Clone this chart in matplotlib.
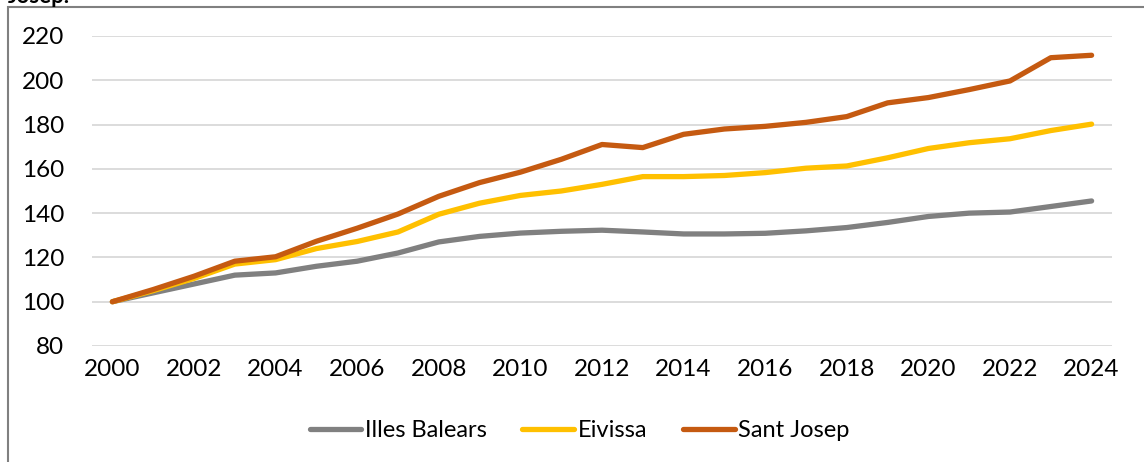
import matplotlib.pyplot as plt
from matplotlib.patches import Rectangle

# Datos (índice 2000 = 100)
years = list(range(2000, 2025))
illes_balears = [100, 104, 108, 112, 113, 116, 118.3, 122, 127, 129.5, 131, 131.8, 132.3,
                 131.5, 130.6, 130.6, 130.9, 132, 133.5, 135.8, 138.5, 140, 140.5, 143, 145.5]
eivissa = [100, 105, 110.5, 117, 119, 124, 127.2, 131.5, 139.5, 144.5, 148, 150, 153,
           156.5, 156.5, 157, 158.3, 160.3, 161.3, 165, 169.2, 171.8, 173.6, 177.3, 180.2]
sant_josep = [100, 105.5, 111.5, 118.3, 120.3, 127.3, 133.2, 139.6, 147.6, 153.8, 158.5, 164.3, 171,
              169.6, 175.6, 178, 179.2, 181, 183.6, 189.8, 192.2, 195.8, 199.7, 210.2, 211.3]
series_names = ['Illes Balears', 'Eivissa', 'Sant Josep']
colors = ['#808080', '#FFC000', '#C55A11']
y_ticks = list(range(80, 221, 20))
x_ticks = list(range(2000, 2025, 2))

plt.rcParams['font.family'] = ['Lato', 'DejaVu Sans']

W, H = 1144, 462
fig = plt.figure(figsize=(W / 100, H / 100), dpi=100)
ax = fig.add_axes([92 / W, 1 - 346 / H, (1112 - 92) / W, (346 - 36) / H])

for vals, name, c in zip([illes_balears, eivissa, sant_josep], series_names, colors):
    ax.plot(years, vals, color=c, lw=3.8, label=name, solid_capstyle='round', zorder=3)

ax.set_xlim(1999.5, 2024.5)
ax.set_ylim(80, 220)
ax.set_yticks(y_ticks)
ax.set_xticks(x_ticks)
ax.grid(axis='y', color='#d9d9d9', lw=1.3)
ax.tick_params(length=0, labelsize=17.5)
ax.tick_params(axis='y', pad=20)
ax.tick_params(axis='x', pad=9)
for s in ax.spines.values():
    s.set_visible(False)

leg = ax.legend(loc='upper center', bbox_to_anchor=(0.478, -0.17), ncol=3, frameon=False,
                fontsize=17, handlelength=2.2, handletextpad=0.15, columnspacing=1.5)

# marco del gráfico y título cortado
fig.patches.append(Rectangle((8 / W, -0.1), 1.2, 1.1 - 7 / H, transform=fig.transFigure,
                             fill=False, edgecolor='#808080', lw=1.5))
fig.text(8 / W, 1 - 3 / H, 'Josep.', fontweight='bold', fontsize=16, va='baseline')

fig.savefig('out.png', dpi=100)
